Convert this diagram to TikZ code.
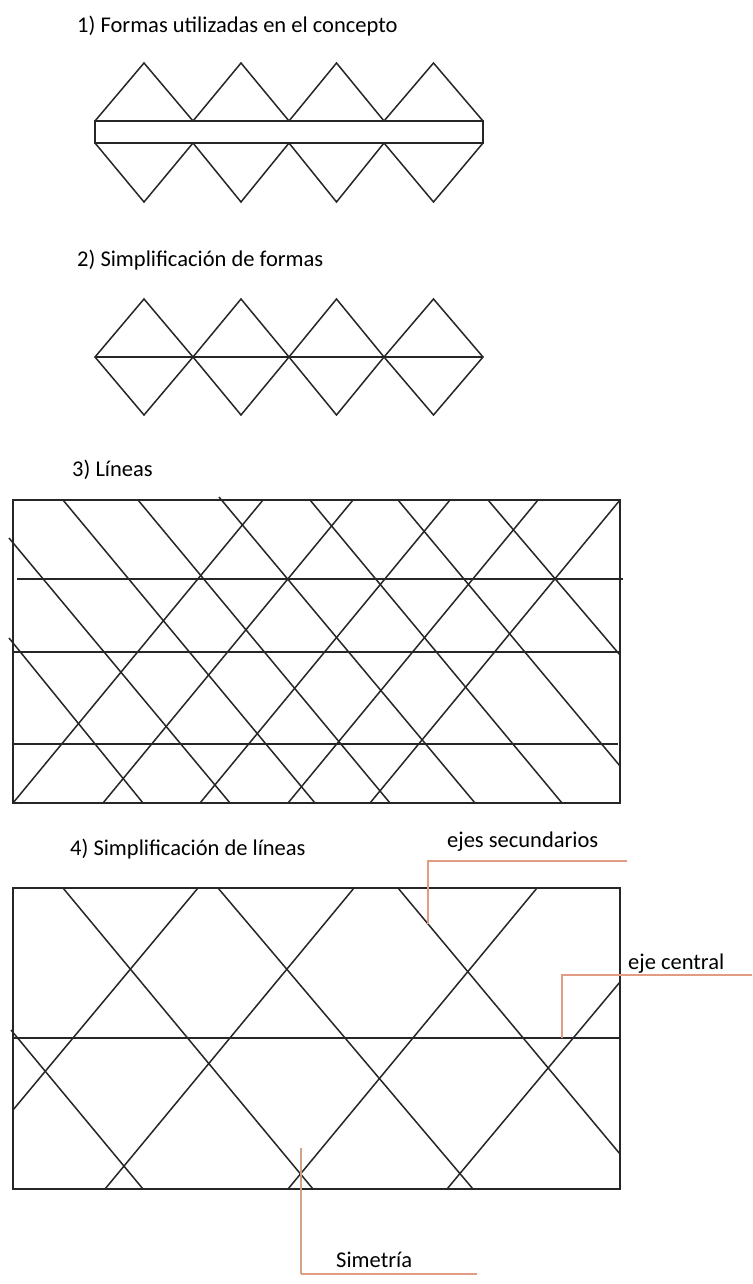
\documentclass[tikz,border=0pt]{standalone}
\usepackage{fontspec}
\setmainfont{Carlito}
\definecolor{ink}{HTML}{262626}
\definecolor{leadcol}{HTML}{E39C84}
\definecolor{leadtan}{HTML}{CFA384}
\begin{document}
\begin{tikzpicture}[x=1pt,y=-1pt,
  shp/.style={draw=ink,line width=1.5pt,line join=miter},
  leader/.style={draw=leadcol,line width=1.4pt},
  lbl/.style={anchor=base west,inner sep=0pt,font=\fontsize{22.5}{26}\selectfont,text=black}]
\useasboundingbox (0,0) rectangle (752,1284);
\fill[white] (0,0) rectangle (752,1284);

% ---------- 1) Formas utilizadas en el concepto
\node[lbl] (t1) at (77,33) {1) Formas utilizadas en el concepto};
\draw[shp] (95,121) rectangle (483,143);
\foreach \a/\b/\c in {95/144/193, 193/241/289, 289/336.5/384, 384/433.5/483} {
  \draw[shp] (\a,121) -- (\b,63) -- (\c,121);
  \draw[shp] (\a,143) -- (\b,202) -- (\c,143);
}

% ---------- 2) Simplificacion de formas
\node[lbl] (t2) at (77,266) {2) Simplificación de formas};
\draw[shp] (95,357) -- (483,357);
\foreach \a/\b/\c in {95/144/193, 193/241/289, 289/336.5/384, 384/433.5/483} {
  \draw[shp] (\a,357) -- (\b,299) -- (\c,357) -- (\b,415) -- cycle;
}

% ---------- 3) Lineas
\node[lbl] (t3) at (72,476) {3) Líneas};
\draw[shp] (13,500) rectangle (620,803);
\draw[shp] (17,579) -- (623,579);
\draw[shp] (13,652) -- (620,652);
\draw[shp] (13,744) -- (618,744);
% descending lines
\draw[shp] (9,538) -- (230,803);
\draw[shp] (9,638) -- (143,803);
\draw[shp] (63,500) -- (315,803);
\draw[shp] (138,500) -- (390,803);
\draw[shp] (219,497) -- (475,803);
\draw[shp] (310,500) -- (562,803);
\draw[shp] (398,500) -- (620,766);
\draw[shp] (488,500) -- (620,655);
% ascending lines
\draw[shp] (13,803) -- (263,500);
\draw[shp] (103,803) -- (353,500);
\draw[shp] (200,803) -- (450,500);
\draw[shp] (288,803) -- (538,500);
\draw[shp] (370,803) -- (620,500);

% ---------- 4) Simplificacion de lineas
\node[lbl] (t4) at (70,855) {4) Simplificación de líneas};
\draw[shp] (13,888) rectangle (620,1189);
\draw[shp] (13,1038) -- (620,1038);
% descending
\draw[shp] (11,1030) -- (143,1189);
\draw[shp] (63,888) -- (313,1189);
\draw[shp] (218,888) -- (473,1189);
\draw[shp] (398,888) -- (620,1154);
% ascending
\draw[shp] (13,1110) -- (198,888);
\draw[shp] (105,1189) -- (354,888);
\draw[shp] (288,1189) -- (537,888);
\draw[shp] (447,1189) -- (620,982);

% ---------- annotations
\node[lbl] (es) at (447,847) {ejes secundarios};
\coordinate (esA) at (428,924);
\coordinate (esB) at (627,861);
\draw[leader] (esA) |- (esB);

\node[lbl] (ec) at (628,969) {eje central};
\coordinate (ecA) at (562,1038);
\coordinate (ecB) at (752,975);
\draw[leader] (ecA) |- (ecB);

\node[lbl] (sm) at (336,1267) {Simetría};
\coordinate (smA) at (301,1148);
\coordinate (smB) at (477,1274);
\draw[leader,draw=leadtan] (smA) -- (smA |- smB);
\draw[leader] (smA |- smB) -- (smB);
\end{tikzpicture}
\end{document}
